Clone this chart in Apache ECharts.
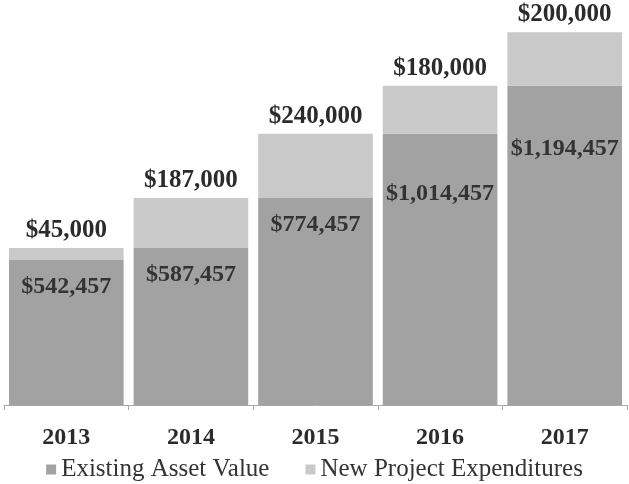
<!DOCTYPE html>
<html>
<head>
<meta charset="utf-8">
<script src="https://cdn.jsdelivr.net/npm/echarts@6/dist/echarts.min.js"></script>
<style>
html, body { margin: 0; padding: 0; background: #fff; }
#main { width: 629px; height: 484px; }
</style>
</head>
<body>
<div id="main"></div>
<script>
// data
var years = ['2013', '2014', '2015', '2016', '2017'];
var existingValue = [542457, 587457, 774457, 1014457, 1194457];
var newExpenditures = [45000, 187000, 240000, 180000, 200000];
var seriesNames = ['Existing Asset Value', 'New Project Expenditures'];

// how far below the bar top each inner label sits
var innerDrop = [15, 15, 15, 48, 51];

function money(v) {
	return '$' + v.toString().replace(/\B(?=(\d{3})+(?!\d))/g, ',');
}

var serif = 'Liberation Serif';

var myChart = echarts.init(document.getElementById('main'));
var options = {
	backgroundColor: '#ffffff',
	animation: false,
	textStyle: { fontFamily: serif },
	grid: { left: 4, right: 2, top: 0, bottom: 79 },
	legend: {
		top: 452,
		left: 'center',
		itemWidth: 10,
		itemHeight: 10,
		itemGap: 36,
		icon: 'rect',
		textStyle: { fontFamily: serif, fontSize: 25, color: '#333333' },
		data: seriesNames
	},
	xAxis: {
		type: 'category',
		data: years,
		axisLine: { lineStyle: { color: '#a8a8a8', width: 1 } },
		axisTick: { show: true, length: 5, lineStyle: { color: '#a8a8a8' } },
		axisLabel: {
			margin: 21,
			fontFamily: serif,
			fontWeight: 'bold',
			fontSize: 24,
			color: '#2b2b2b'
		}
	},
	yAxis: {
		type: 'value',
		min: 0,
		max: 1515000,
		show: false,
		splitLine: { show: false }
	},
	series: [
		{
			name: seriesNames[0],
			type: 'bar',
			stack: 'total',
			barWidth: '92%',
			itemStyle: { color: '#a2a2a2' },
			data: existingValue.map(function (v, i) {
				return {
					value: v,
					label: { distance: innerDrop[i] }
				};
			}),
			label: {
				show: true,
				position: 'insideTop',
				fontFamily: serif,
				fontWeight: 'bold',
				fontSize: 24,
				color: '#333333',
				formatter: function (p) { return money(p.value); }
			}
		},
		{
			name: seriesNames[1],
			type: 'bar',
			stack: 'total',
			barWidth: '92%',
			itemStyle: { color: '#c9c9c9' },
			data: newExpenditures,
			label: {
				show: true,
				position: 'top',
				distance: 5,
				fontFamily: serif,
				fontWeight: 'bold',
				fontSize: 25,
				color: '#2b2b2b',
				formatter: function (p) { return money(p.value); }
			}
		}
	]
};
myChart.setOption(options);
</script>
</body>
</html>
